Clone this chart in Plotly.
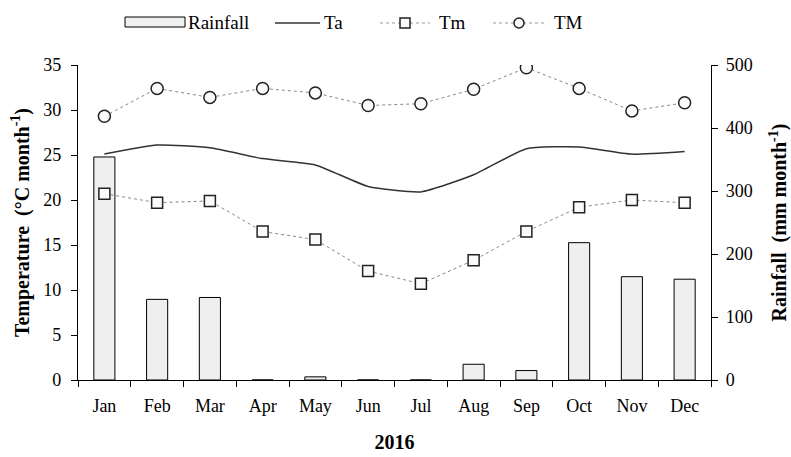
import plotly.graph_objects as go

months = ["Jan", "Feb", "Mar", "Apr", "May", "Jun", "Jul", "Aug", "Sep", "Oct", "Nov", "Dec"]
rainfall = [354, 128, 131, 0, 5, 0, 0, 25, 15, 218, 164, 160]
ta = [25.1, 26.1, 25.8, 24.6, 23.9, 21.5, 20.9, 22.8, 25.7, 25.9, 25.1, 25.4]
tm = [20.7, 19.7, 19.9, 16.5, 15.6, 12.1, 10.7, 13.3, 16.5, 19.2, 20.0, 19.7]
tmax = [29.3, 32.4, 31.4, 32.4, 31.9, 30.5, 30.7, 32.3, 34.7, 32.4, 29.9, 30.8]

FONT = "Liberation Serif"
W, H = 791, 457
ML, MR, MT, MB = 78, 80, 65, 77
PW, PH = W - ML - MR, H - MT - MB


def px(x):
    """pixel column -> paper x"""
    return (x - ML) / PW


def py(y):
    """pixel row -> paper y"""
    return (H - MB - y) / PH


fig = go.Figure()

# Rainfall bars on the right-hand axis (drawn first so the lines sit on top)
fig.add_trace(go.Bar(
    x=months, y=rainfall, name="Rainfall", yaxis="y",
    width=0.4,
    marker=dict(color="#efefef", line=dict(color="#000000", width=1)),
))

# Temperature series on the left-hand axis
fig.add_trace(go.Scatter(
    x=months, y=ta, name="Ta", yaxis="y2", mode="lines",
    line=dict(color="#333333", width=1.5, shape="spline", smoothing=0.5),
))
fig.add_trace(go.Scatter(
    x=months, y=tm, name="Tm", yaxis="y2", mode="lines+markers",
    line=dict(color="#888888", width=1, dash="dot"),
    marker=dict(symbol="square", size=11, color="#fafafa",
                line=dict(color="#222222", width=1.5)),
))
fig.add_trace(go.Scatter(
    x=months, y=tmax, name="TM", yaxis="y2", mode="lines+markers",
    line=dict(color="#888888", width=1, dash="dot"),
    marker=dict(symbol="circle", size=12, color="#fafafa",
                line=dict(color="#222222", width=1.5)),
))

# Legend row across the top
ly = 22
shapes = [
    dict(type="rect", xref="paper", yref="paper",
         x0=px(125), x1=px(185), y0=py(27), y1=py(17),
         fillcolor="#efefef", line=dict(color="#000000", width=1)),
    dict(type="line", xref="paper", yref="paper",
         x0=px(275), x1=px(320), y0=py(ly + 1), y1=py(ly + 1),
         line=dict(color="#333333", width=1.5)),
    dict(type="line", xref="paper", yref="paper",
         x0=px(380), x1=px(430), y0=py(ly + 1), y1=py(ly + 1),
         line=dict(color="#999999", width=1, dash="dot")),
    dict(type="rect", xref="paper", yref="paper",
         x0=px(400), x1=px(410), y0=py(ly + 6), y1=py(ly - 4),
         fillcolor="#fafafa", line=dict(color="#222222", width=1.5)),
    dict(type="line", xref="paper", yref="paper",
         x0=px(493), x1=px(545), y0=py(ly + 1), y1=py(ly + 1),
         line=dict(color="#999999", width=1, dash="dot")),
    dict(type="circle", xref="paper", yref="paper",
         x0=px(514), x1=px(524), y0=py(ly + 6), y1=py(ly - 4),
         fillcolor="#fafafa", line=dict(color="#222222", width=1.5)),
]
legend_labels = [("Rainfall", 186), ("Ta", 322), ("Tm", 437), ("TM", 552)]
annotations = [
    dict(text=t, xref="paper", yref="paper", x=px(x0), y=py(ly),
         xanchor="left", yanchor="middle", showarrow=False,
         font=dict(family=FONT, size=19, color="#000000"))
    for t, x0 in legend_labels
]

axis_font = dict(family=FONT, size=18, color="#000000")
title_font = dict(family=FONT, size=20, color="#000000")

fig.update_layout(
    width=W, height=H,
    margin=dict(l=ML, r=MR, t=MT, b=MB, autoexpand=False),
    paper_bgcolor="white", plot_bgcolor="white",
    font=dict(family=FONT, size=18, color="#000000"),
    showlegend=False,
    shapes=shapes,
    annotations=annotations,
    xaxis=dict(
        type="category", showline=True, linecolor="#000000", linewidth=1.2,
        ticks="outside", ticklen=6, tickcolor="#000000", tickson="boundaries",
        tickfont=axis_font, showgrid=False, zeroline=False, automargin=False,
        ticklabelstandoff=9,
        title=dict(text="<b>2016</b>", font=title_font, standoff=20),
        range=[-0.5, 11.5],
    ),
    yaxis=dict(
        range=[0, 500], side="right", tickvals=[0, 100, 200, 300, 400, 500],
        showline=True, linecolor="#000000", linewidth=1.2,
        ticks="outside", ticklen=6, tickcolor="#000000",
        tickfont=axis_font, showgrid=False, zeroline=False, automargin=False,
        ticklabelstandoff=4,
        title=dict(text="<b>Rainfall  (mm month<sup>-1</sup>)</b>",
                   font=title_font, standoff=24),
    ),
    yaxis2=dict(
        range=[0, 35], side="left", overlaying="y", anchor="x",
        tickvals=[0, 5, 10, 15, 20, 25, 30, 35],
        showline=True, linecolor="#000000", linewidth=1.2,
        ticks="outside", ticklen=6, tickcolor="#000000",
        tickfont=axis_font, showgrid=False, zeroline=False, automargin=False,
        ticklabelstandoff=6,
        title=dict(text="<b>Temperature  (°C month<sup>-1</sup>)</b>",
                   font=title_font, standoff=8),
    ),
)

fig.write_html("out.html")
